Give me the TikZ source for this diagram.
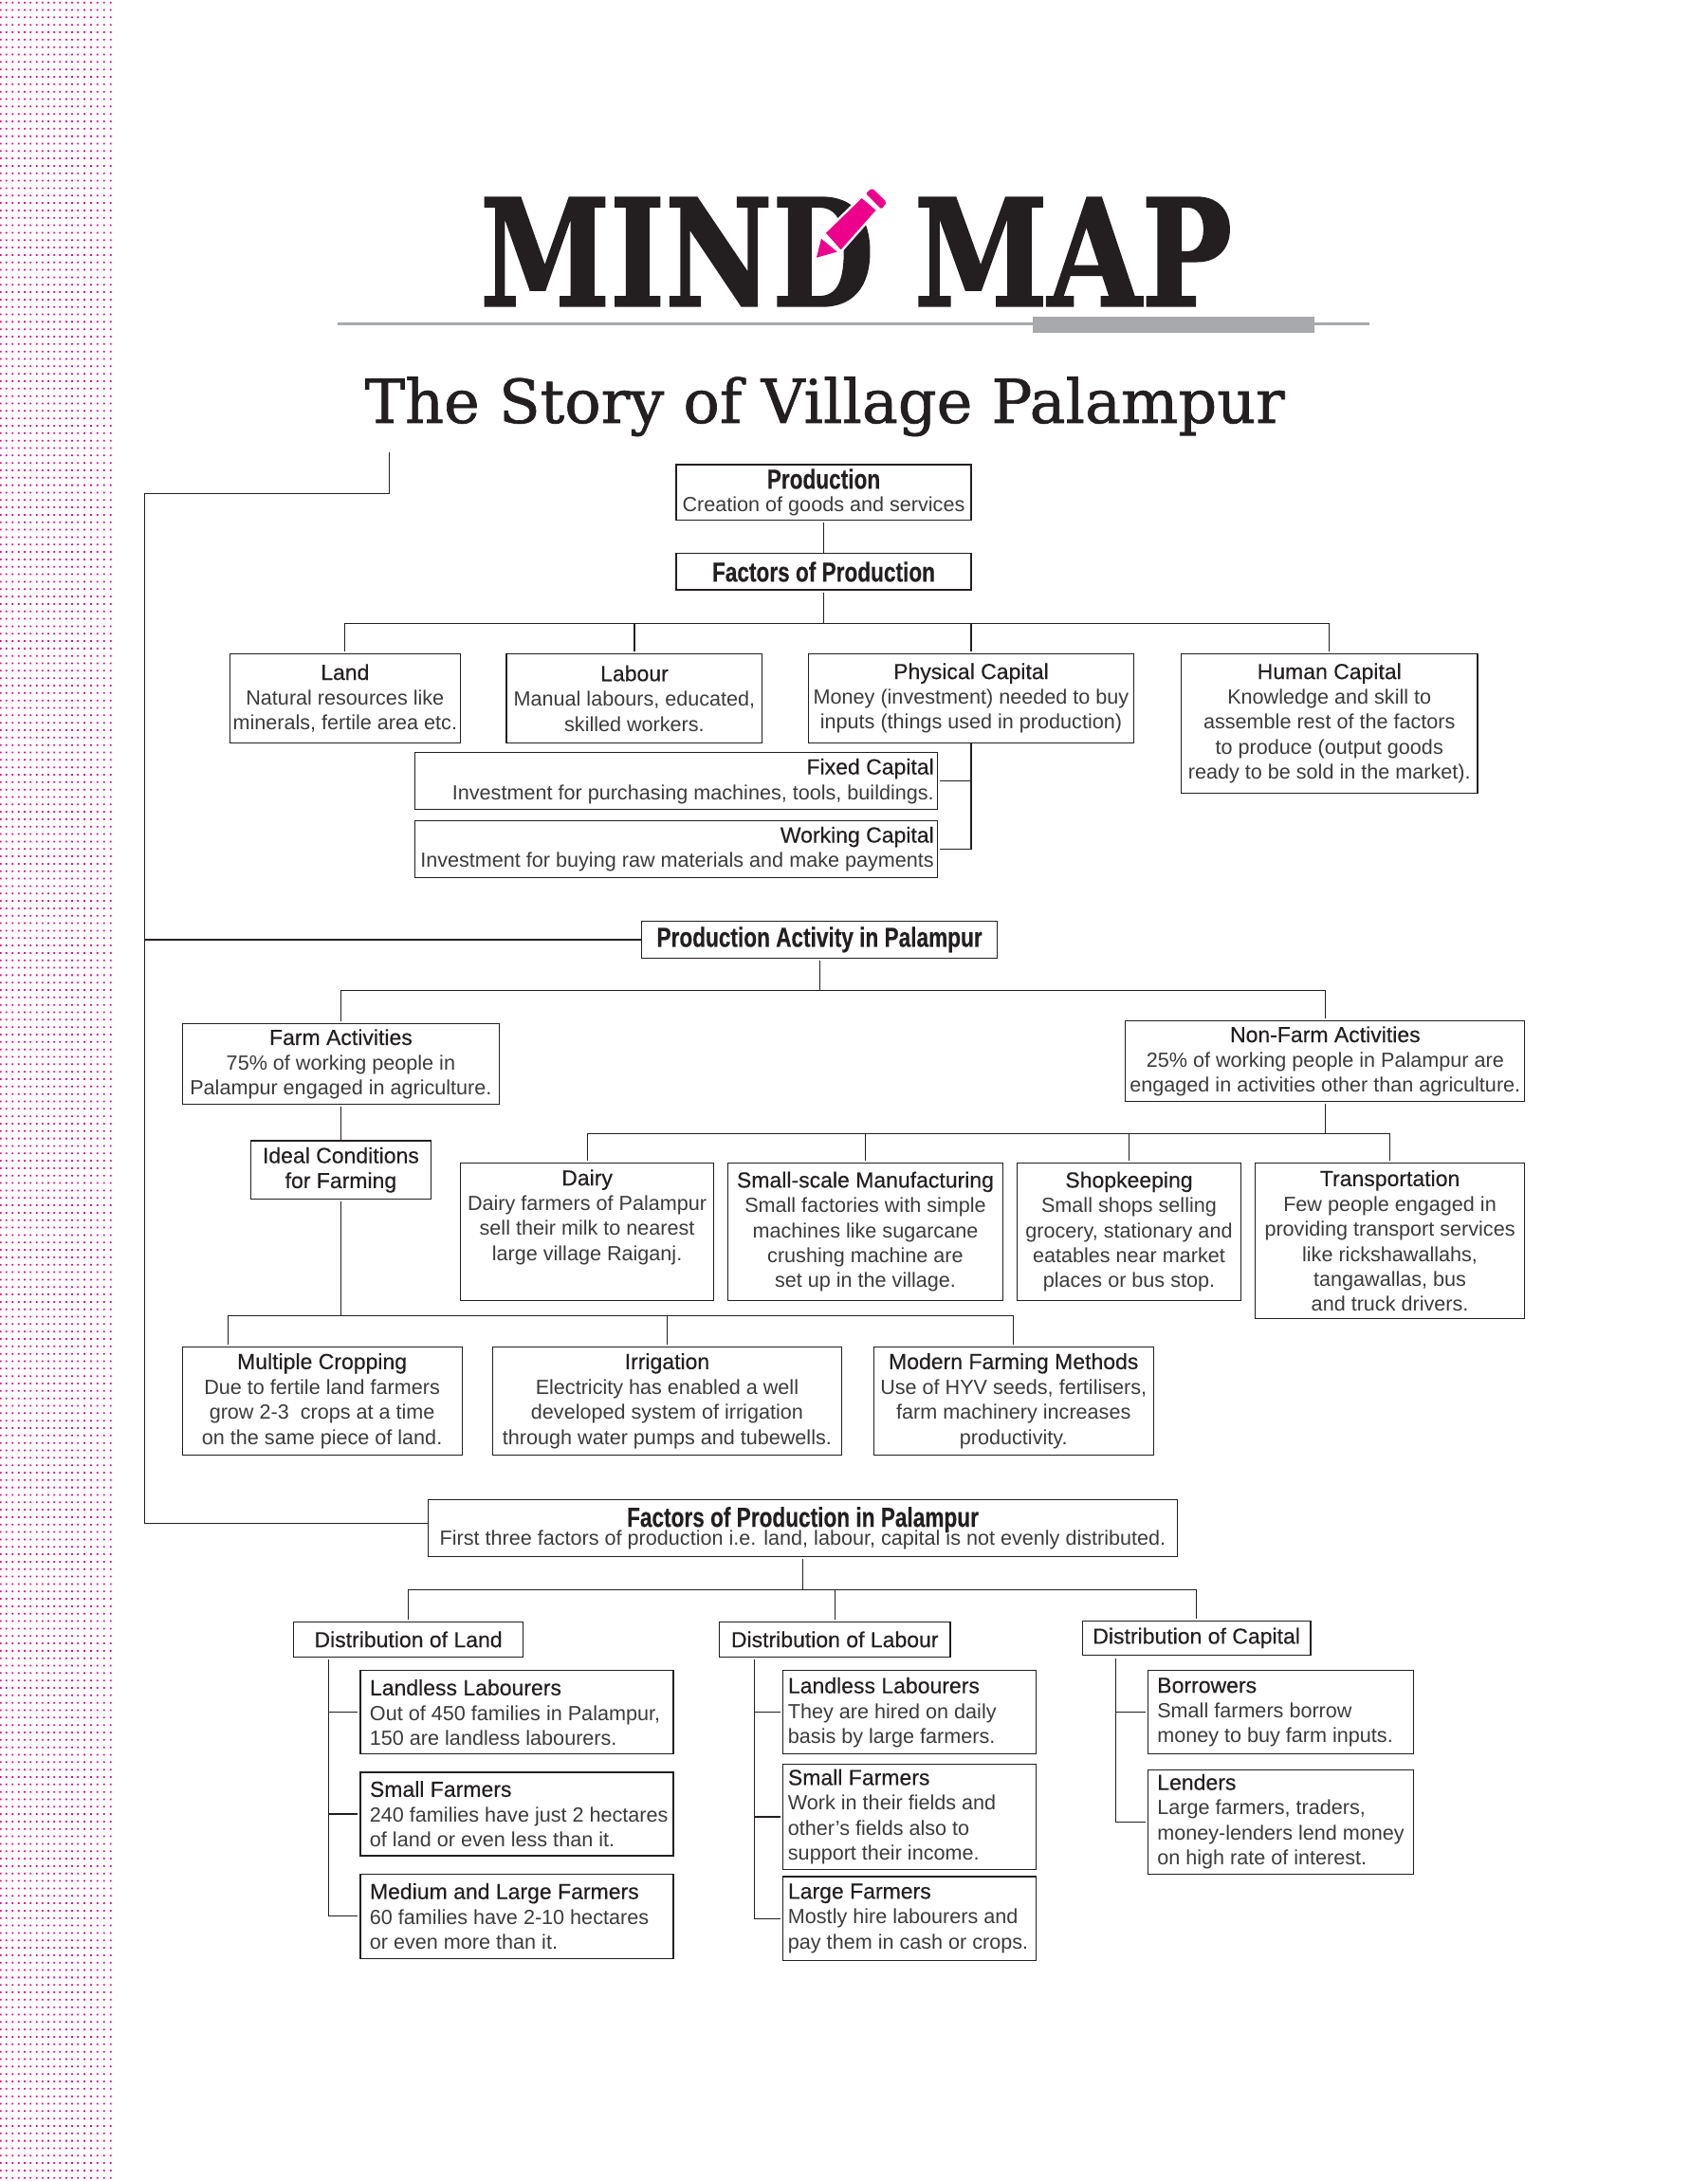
\documentclass[tikz,border=0pt]{standalone}
\usepackage{fontspec}
\setmainfont{Liberation Sans}
\newfontfamily\headfont[FakeBold=0.4]{Liberation Sans}
\newfontfamily\narrowfont[UprightFont={* Bold},FakeStretch=0.78,FakeBold=0.3]{Liberation Sans}
\newfontfamily\logofont[UprightFont={* Bold},FakeBold=1.5]{DejaVu Serif}
\newfontfamily\slabfont[FakeBold=1]{DejaVu Serif}
\definecolor{inkblack}{HTML}{231F20}
\definecolor{bodygrey}{HTML}{3C3A3B}
\definecolor{rulegrey}{HTML}{A7A9AC}
\definecolor{penpink}{HTML}{EC008C}
\tikzset{
    boxnode/.style 2 args={draw=inkblack,line width=1.1pt,anchor=north west,outer sep=0pt,
        minimum width=#1*1.467pt,minimum height=#2*1.467pt,inner xsep=1pt,inner ysep=0pt,
        align=center,text=bodygrey,font=\fontsize{21.6}{26.4}\selectfont},
    padbox/.style n args={3}{boxnode={#1}{#2},inner xsep=#3pt,text width=#1*1.467pt-2*#3pt},
    link/.style={draw=inkblack,line width=1.1pt,shorten >=2.5pt},
}
\newcommand{\hd}[1]{{\fontsize{23}{26.4}\selectfont\headfont\color{inkblack}#1}}
\newcommand{\bighd}[1]{{\fontsize{29}{30}\selectfont\narrowfont\color{inkblack}#1}}
\begin{document}
\begin{tikzpicture}[x=1.467pt,y=-1.467pt]
    \useasboundingbox (0,0) rectangle (1227,1567.8);
    \fill[penpink] \foreach \dx in {0.5,4.6,9.1,13.4,17.7,22,26.4,30.5,34.8,39.1,43.1,47.7,51.8,56.1,60.7,65.4,70,74.8,79.6}
        {\foreach \dy in {0,...,293} {(\dx-0.6,1.84+\dy*5.337-0.6) rectangle ++(1.2,1.2)}};

    \node[inner sep=0pt,anchor=north west,text=inkblack] (logomind) at (345,142)
        {\resizebox{415pt}{114pt}{\logofont MIND}};
    \node[inner sep=0pt,anchor=north west,text=inkblack] (logomap) at (657,142)
        {\resizebox{335pt}{114pt}{\logofont MAP}};
    \draw[white,line width=5pt,fill=white,line join=round] (586.9,185.2) -- (590.3,171.6) -- (593.7,167.5) -- (619.4,142.5)
        -- (622.3,139) -- (626.8,135.1) -- (637.4,145.4) -- (633.5,150.4) -- (629.5,151.1) -- (604.4,179.5) -- (601.7,181) -- cycle;
    \fill[penpink] (586.9,185.2) -- (590.3,171.6) -- (601.7,181) -- cycle;
    \fill[penpink] (593.7,167.5) -- (604.4,179.5) -- (629.5,151.1) -- (619.4,142.5) -- cycle;
    \fill[penpink,rounded corners=2pt] (622.3,139) -- (626.8,135.1) -- (637.4,145.4) -- (633.5,150.4) -- cycle;
    \draw[rulegrey,line width=3pt] (243,233) -- (984,233);
    \fill[rulegrey] (742,228) rectangle (945,239);
    \node[inner sep=0pt,anchor=base west,text=inkblack] (storytitle) at (262,304)
        {\resizebox{970pt}{!}{\slabfont The Story of Village Palampur}};

    \node[boxnode={212}{40}] (production) at (486,334) {\bighd{Production}\\[-2pt]Creation of goods and services};
    \node[boxnode={212}{26}] (factors) at (486,398) {\bighd{Factors of Production}};
    \node[boxnode={166}{64}] (land) at (165,470) {\hd{Land}\\Natural resources like\\minerals, fertile area etc.};
    \node[boxnode={184}{64}] (labour) at (364,470) {\hd{Labour}\\Manual labours, educated,\\skilled workers.};
    \node[boxnode={234}{64}] (physical) at (581,470) {\hd{Physical Capital}\\Money (investment) needed to buy\\inputs (things used in production)};
    \node[boxnode={213}{100}] (human) at (849,470) {\hd{Human Capital}\\Knowledge and skill to\\assemble rest of the factors\\to produce (output goods\\ready to be sold in the market).};
    \node[padbox={376}{41}{4},align=flush right] (fixed) at (298,541) {\hd{Fixed Capital}\\Investment for purchasing machines, tools, buildings.};
    \node[padbox={376}{41}{4},align=flush right] (working) at (298,590) {\hd{Working Capital}\\Investment for buying raw materials and make payments};

    \node[boxnode={256}{27}] (activity) at (461,662) {\bighd{Production Activity in Palampur}};
    \node[boxnode={228}{58}] (farm) at (131,736) {\hd{Farm Activities}\\75\% of working people in\\Palampur engaged in agriculture.};
    \node[boxnode={287}{58}] (nonfarm) at (809,734) {\hd{Non-Farm Activities}\\25\% of working people in Palampur are\\engaged in activities other than agriculture.};
    \node[boxnode={130}{42}] (ideal) at (180,820) {\hd{Ideal Conditions}\\\hd{for Farming}};
    \node[boxnode={182}{99}] (dairy) at (331,836) {\hd{Dairy}\\Dairy farmers of Palampur\\sell their milk to nearest\\large village Raiganj.\\[9pt]~};
    \node[boxnode={198}{99}] (manufacturing) at (523,836) {\hd{Small-scale Manufacturing}\\Small factories with simple\\machines like sugarcane\\crushing machine are\\set up in the village.};
    \node[boxnode={161}{99}] (shopkeeping) at (731,836) {\hd{Shopkeeping}\\Small shops selling\\grocery, stationary and\\eatables near market\\places or bus stop.};
    \node[boxnode={194}{112}] (transport) at (902,836) {\hd{Transportation}\\Few people engaged in\\providing transport services\\like rickshawallahs,\\tangawallas, bus\\and truck drivers.};
    \node[boxnode={201}{78}] (cropping) at (131,968) {\hd{Multiple Cropping}\\Due to fertile land farmers\\grow 2-3\ \ crops at a time\\on the same piece of land.};
    \node[boxnode={251}{78}] (irrigation) at (354,968) {\hd{Irrigation}\\Electricity has enabled a well\\developed system of irrigation\\through water pumps and tubewells.};
    \node[boxnode={201}{78}] (modern) at (628,968) {\hd{Modern Farming Methods}\\Use of HYV seeds, fertilisers,\\farm machinery increases\\productivity.};

    \node[boxnode={538}{41}] (palampur) at (308,1078) {\bighd{Factors of Production in Palampur}\\[-7pt]First three factors of production i.e. land, labour, capital is not evenly distributed.};
    \node[boxnode={165}{25}] (distland) at (211,1166) {\hd{Distribution of Land}};
    \node[boxnode={166}{25}] (distlabour) at (517,1166) {\hd{Distribution of Labour}};
    \node[boxnode={164}{25}] (distcapital) at (778,1165) {\hd{Distribution of Capital}};
    \node[padbox={225}{60}{10},align=flush left] (landless) at (259,1201) {\hd{Landless Labourers}\\Out of 450 families in Palampur,\\150 are landless labourers.};
    \node[padbox={225}{60}{10},align=flush left] (small) at (259,1274) {\hd{Small Farmers}\\\mbox{240 families have just 2 hectares}\\of land or even less than it.};
    \node[padbox={225}{61}{10},align=flush left] (medium) at (259,1347) {\hd{Medium and Large Farmers}\\60 families have 2-10 hectares\\or even more than it.};
    \node[padbox={182}{60}{5},align=flush left] (hired) at (563,1201) {\hd{Landless Labourers}\\They are hired on daily\\basis by large farmers.};
    \node[padbox={182}{76}{5},align=flush left] (smallwork) at (563,1268) {\hd{Small Farmers}\\Work in their fields and\\other's fields also to\\support their income.};
    \node[padbox={182}{60}{5},align=flush left] (large) at (563,1349) {\hd{Large Farmers}\\Mostly hire labourers and\\pay them in cash or crops.};
    \node[padbox={191}{60}{10},align=flush left] (borrowers) at (825,1201) {\hd{Borrowers}\\Small farmers borrow\\money to buy farm inputs.};
    \node[padbox={191}{75}{10},align=flush left] (lenders) at (825,1272) {\hd{Lenders}\\Large farmers, traders,\\\mbox{money-lenders lend money}\\on high rate of interest.};

    \coordinate (outstart) at (280,325);
    \coordinate (outcorner) at (104,355);
    \coordinate (outend) at (308,1095);
    \draw[link,shorten >=0pt] (outstart) |- (outcorner) |- (outend);
    \draw[link,shorten >=0pt] (outcorner |- activity.west) -- (activity.west);

    \draw[link] (factors) -- (production);
    \coordinate (busfactors) at (592,448);
    \draw[link] (busfactors) -- (factors);
    \draw[link] (busfactors) -| (land.north);
    \draw[link] (busfactors) -| (labour.north);
    \draw[link] (busfactors) -| (physical.north);
    \draw[link] (busfactors) -| (human.north);
    \draw[link] (physical.south) |- (fixed.east);
    \draw[link] (physical.south) |- (working.east);

    \coordinate (busactivity) at (589,712);
    \draw[link] (busactivity) -- (activity);
    \draw[link] (busactivity) -| (farm.north);
    \draw[link] (busactivity) -| (nonfarm.north);
    \draw[link] (ideal) -- (farm);
    \coordinate (busideal) at (245,946);
    \draw[link] (busideal) -- (ideal);
    \coordinate (croppingtop) at (164,968);
    \draw[link] (busideal) -| (croppingtop);
    \draw[link] (busideal) -| (irrigation.north);
    \draw[link] (busideal) -| (modern.north);
    \coordinate (busnonfarm) at (952.5,815);
    \draw[link] (busnonfarm) -- (nonfarm);
    \draw[link] (busnonfarm) -| (dairy.north);
    \draw[link] (busnonfarm) -| (manufacturing.north);
    \draw[link] (busnonfarm) -| (shopkeeping.north);
    \draw[link] (busnonfarm) -| (transport.north);

    \coordinate (buspalampur) at (577,1143);
    \draw[link] (buspalampur) -- (palampur);
    \draw[link] (buspalampur) -| (distland.north);
    \draw[link] (buspalampur) -| (distlabour.north);
    \draw[link] (buspalampur) -| (distcapital.north);
    \coordinate (trunkland) at (236,1193);
    \draw[link] (trunkland) |- (landless.west);
    \draw[link] (trunkland) |- (small.west);
    \draw[link] (trunkland) |- (medium.west);
    \coordinate (trunklabour) at (542,1193);
    \draw[link] (trunklabour) |- (hired.west);
    \draw[link] (trunklabour) |- (smallwork.west);
    \draw[link] (trunklabour) |- (large.west);
    \coordinate (trunkcapital) at (802,1192);
    \draw[link] (trunkcapital) |- (borrowers.west);
    \draw[link] (trunkcapital) |- (lenders.west);
\end{tikzpicture}
\end{document}
